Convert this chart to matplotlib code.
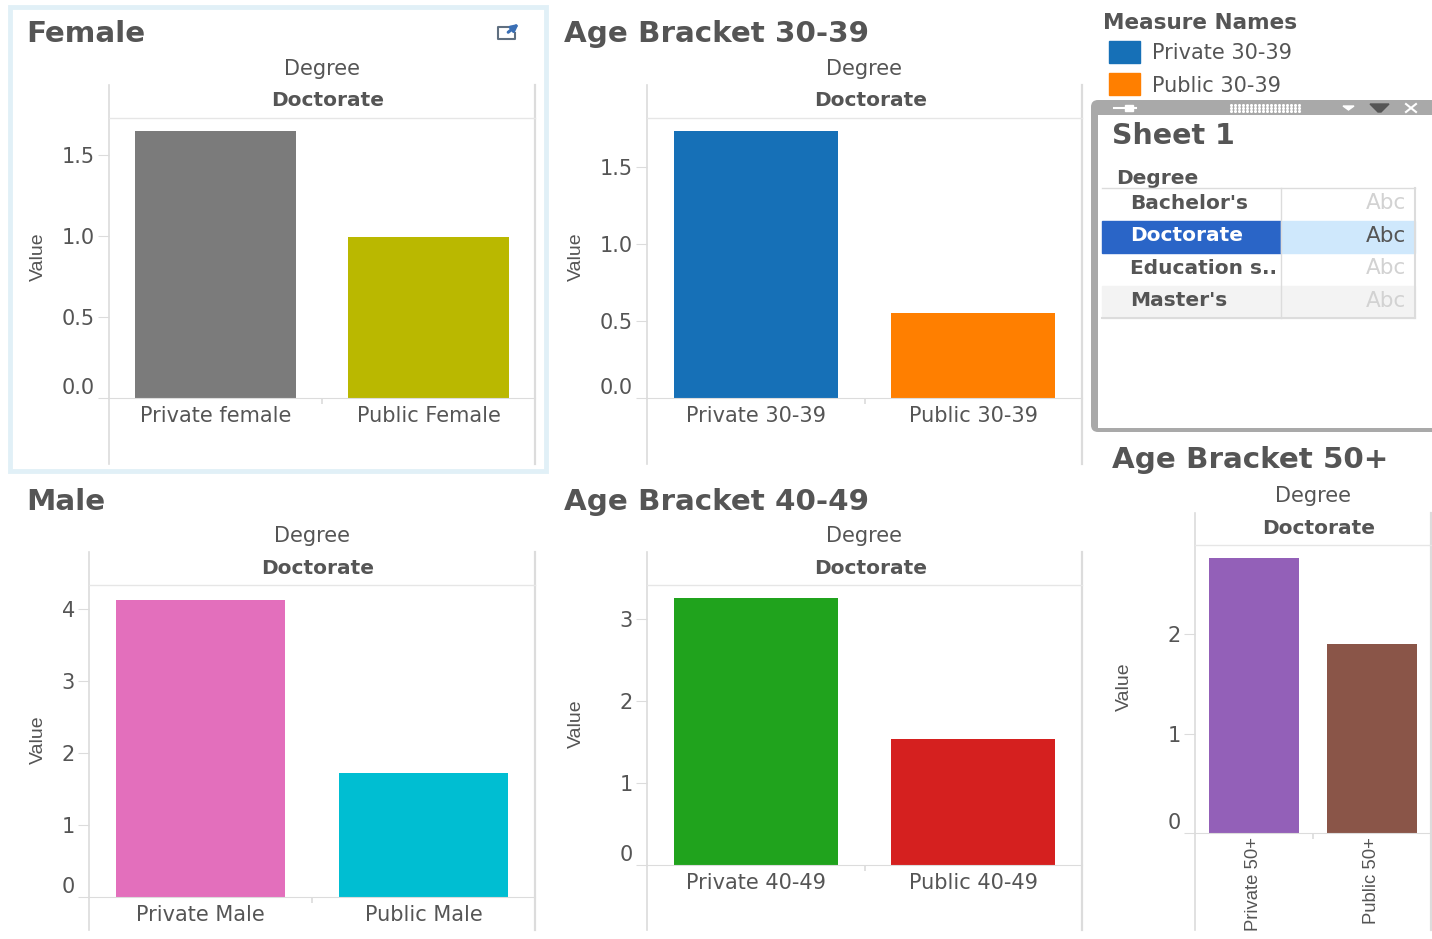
import matplotlib
matplotlib.use("Agg")
from matplotlib import pyplot as plt
from matplotlib import font_manager
from matplotlib.patches import Rectangle, FancyBboxPatch, Polygon
from matplotlib.transforms import ScaledTranslation
import numpy as np

# Values
female_labels = ["Private female", "Public Female"]
female_values = [1.648, 0.994]
female_ticks = [0.0, 0.5, 1.0, 1.5]

age30_labels = ["Private 30-39", "Public 30-39"]
age30_values = [1.734, 0.552]
age30_ticks = [0.0, 0.5, 1.0, 1.5]

male_labels = ["Private Male", "Public Male"]
male_values = [4.125, 1.72]
male_ticks = [0, 1, 2, 3, 4]

age40_labels = ["Private 40-49", "Public 40-49"]
age40_values = [3.256, 1.537]
age40_ticks = [0, 1, 2, 3]

age50_labels = ["Private 50+", "Public 50+"]
age50_values = [2.76, 1.90]
age50_ticks = [0, 1, 2]

filter_rows = ["Bachelor's", "Doctorate", "Education s..", "Master's"]

TEXT = "#555555"
LINE = "#dcdcdc"
WIDE = "DejaVu Sans"
installed = {f.name for f in font_manager.fontManager.ttflist}
NARROW = "Liberation Sans Narrow" if "Liberation Sans Narrow" in installed else "Liberation Sans"

W, H = 1432, 939
fig = plt.figure(figsize=(W / 100, H / 100), dpi=100)

# Overlay in pixel coordinates for frames, titles and the filter card
bg = fig.add_axes([0, 0, 1, 1])
bg.set_xlim(0, W)
bg.set_ylim(H, 0)
bg.axis("off")


def label(x, y, s, size=15, weight="normal", color=TEXT, ha="center", **kw):
    bg.text(x, y, s, fontsize=size, fontweight=weight, color=color, ha=ha, va="center",
            family=WIDE, **kw)


def chart(left, right, top, base, y_per_unit, values, names, colors, ticks, fmt,
          title, title_x, title_y, line_top, line_bottom, value_x, value_y, rotated=False):
    ax = fig.add_axes([left / W, 1 - base / H, (right - left) / W, (base - top) / H])
    ax.patch.set_alpha(0)
    ax.bar([0, 1], values, width=0.755, color=colors)
    ax.set_xlim(-0.5, 1.5)
    ax.set_ylim(0, (base - top) / y_per_unit)
    ax.set_yticks(ticks)
    ax.set_yticklabels([fmt % t for t in ticks], fontsize=15, color=TEXT, family=WIDE)
    ax.tick_params(axis="y", length=8, width=0.8, color=LINE, pad=2)
    ax.set_xticks([0, 1])
    ax.set_xticks([0.5], minor=True)
    ax.tick_params(axis="x", which="minor", length=4, width=1.2, color=LINE)
    if rotated:
        ax.set_xticklabels(names, rotation=90, fontsize=13.3, color=TEXT, family=NARROW)
        ax.tick_params(axis="x", which="major", length=0, pad=3)
    else:
        ax.set_xticklabels(names, fontsize=15, color=TEXT, family=WIDE)
        ax.tick_params(axis="x", which="major", length=0, pad=5.5)
    for side in ["top", "left", "right"]:
        ax.spines[side].set_visible(False)
    ax.spines["bottom"].set_color(LINE)
    # the zero label sits above the baseline
    zero = ax.get_yticklabels()[0]
    zero.set_transform(zero.get_transform() + ScaledTranslation(0, 12 / 100, fig.dpi_scale_trans))

    bg.plot([left, left], [line_top, line_bottom], color=LINE, lw=1.2)
    bg.plot([right, right], [line_top, line_bottom], color=LINE, lw=1.6)
    bg.plot([left, right], [top, top], color="#e6e6e6", lw=1)
    label(title_x, title_y + 1.5, title, size=21.2, weight="bold", ha="left")
    mid = (left + right) / 2
    label(mid + 6, top - 17, "Doctorate", size=14.5, weight="bold")
    label(mid, top - 49, "Degree")
    bg.text(value_x, value_y, "Value", rotation=90, fontsize=14, color=TEXT, family=NARROW,
            ha="center", va="center")
    return ax


# Highlight frame behind the Female sheet
bg.add_patch(Rectangle((10, 7), 536, 464, fill=False, ec="#e1f0f7", lw=3.5))

chart(109, 535, 118, 398, 162, female_values, female_labels, ["#7b7b7b", "#bab800"],
      female_ticks, "%.1f", "Female", 26, 33, 85, 464, 38, 257)
chart(647, 1082, 118, 398, 154, age30_values, age30_labels, ["#1670b7", "#ff7f00"],
      age30_ticks, "%.1f", "Age Bracket 30-39", 564, 33, 85, 464, 576, 257)
chart(89, 535, 585, 897, 72, male_values, male_labels, ["#e36fbc", "#00bed2"],
      male_ticks, "%d", "Male", 26, 500, 552, 930, 38, 740)
chart(647, 1082, 585, 865, 82, age40_values, age40_labels, ["#20a31d", "#d5201f"],
      age40_ticks, "%d", "Age Bracket 40-49", 564, 500, 552, 930, 576, 724)
chart(1195, 1431, 545, 833, 99.5, age50_values, age50_labels, ["#9360b8", "#8a5548"],
      age50_ticks, "%d", "Age Bracket 50+", 1112, 459, 513, 930, 1124, 687, rotated=True)

# Pop-out icon on the Female sheet
bg.plot([512, 498, 498, 515, 515], [27, 27, 39, 39, 33], color="#5f6f80", lw=1.5)
bg.annotate("", xy=(521, 22), xytext=(506, 34),
            arrowprops=dict(arrowstyle="-|>", color="#3a6fb5", lw=2.2))

# Legend
label(1103, 23, "Measure Names", size=15.5, weight="bold", ha="left")
bg.add_patch(Rectangle((1109, 41), 31, 22, color="#1670b7"))
bg.add_patch(Rectangle((1109, 73), 31, 22, color="#ff7f00"))
label(1152, 53, "Private 30-39", ha="left")
label(1152, 86, "Public 30-39", ha="left")

# Filter card with its grey title bar
bg.add_patch(FancyBboxPatch((1091, 100), 360, 332, boxstyle="round,pad=0,rounding_size=7",
                            fc="#a9a9a9", ec="none", zorder=2))
bg.add_patch(Rectangle((1098, 115), 340, 313, fc="white", ec="none", zorder=2.1))
bg.plot([1114, 1136], [108, 108], color="white", lw=1.5, zorder=3)
bg.add_patch(Rectangle((1125, 105), 8, 6, color="white", zorder=3))
dots_x, dots_y = np.meshgrid(np.arange(1231, 1303, 4), [105, 108, 111])
bg.scatter(dots_x.ravel(), dots_y.ravel(), s=1.5, color="white", zorder=3)
bg.add_patch(Polygon([[1343, 106], [1354, 106], [1348.5, 110]], color="white", zorder=3))
bg.add_patch(Polygon([[1370, 104], [1389, 104], [1381, 112], [1378, 112]], color="#555555", zorder=3))
bg.plot([1406, 1416], [104, 112], color="white", lw=1.5, zorder=3)
bg.plot([1406, 1416], [112, 104], color="white", lw=1.5, zorder=3)

bg.text(1112, 136, "Sheet 1", fontsize=20.5, fontweight="bold", color=TEXT, family=WIDE,
        ha="left", va="center", zorder=3)
bg.text(1116, 178, "Degree", fontsize=14.5, fontweight="bold", color=TEXT, family=WIDE,
        ha="left", va="center", zorder=3)

row_top = 188
row_h = 32.5
for i, name in enumerate(filter_rows):
    y = row_top + i * row_h
    selected = name == "Doctorate"
    if selected:
        bg.add_patch(Rectangle((1102, y), 179, row_h, color="#2a65c7", zorder=2.5))
        bg.add_patch(Rectangle((1281, y), 134, row_h, color="#cfe8fc", zorder=2.5))
    elif name == "Master's":
        bg.add_patch(Rectangle((1102, y), 313, row_h, color="#f3f3f3", zorder=2.5))
    bg.text(1130, y + row_h / 2 - 1, name, fontsize=14.5, fontweight="bold", family=WIDE,
            color="white" if selected else TEXT, ha="left", va="center", zorder=3)
    bg.text(1406, y + row_h / 2 - 1, "Abc", fontsize=15.5, family=WIDE,
            color=TEXT if selected else "#d2d2d2", ha="right", va="center", zorder=3)
bg.plot([1102, 1415], [row_top, row_top], color=LINE, lw=1, zorder=3)
bg.plot([1102, 1415], [row_top + 4 * row_h] * 2, color=LINE, lw=1.5, zorder=3)
bg.plot([1281, 1281], [row_top, row_top + 4 * row_h], color=LINE, lw=1, zorder=3)
bg.plot([1415, 1415], [row_top, row_top + 4 * row_h], color=LINE, lw=1.5, zorder=3)

fig.savefig("out.png", dpi=100)
